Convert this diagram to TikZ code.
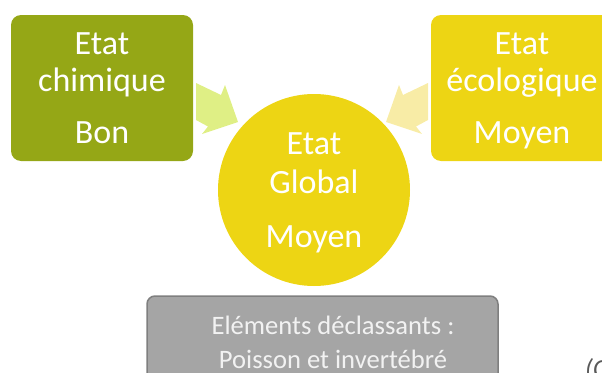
\documentclass[tikz,border=0pt]{standalone}
\usepackage{fontspec}
\setmainfont{Carlito}
\definecolor{vertolive}{HTML}{95A716}
\definecolor{jaune}{HTML}{EDD514}
\definecolor{flechevert}{HTML}{DFEF85}
\definecolor{flechejaune}{HTML}{F8ECA6}
\definecolor{grisfond}{HTML}{A5A5A5}
\definecolor{grisbord}{HTML}{7F7F7F}
\definecolor{grissource}{HTML}{595959}
\begin{document}
\begin{tikzpicture}[x=1pt, y=-1pt, line join=round, line cap=round,
  etat/.style={rounded corners=10pt, minimum width=182pt, minimum height=146pt, inner sep=0pt,
    text=white, align=center, text depth=0pt, font=\fontsize{34}{37}\selectfont},
  global/.style={circle, fill=jaune, minimum size=192pt, inner sep=0pt,
    text=white, align=center, text depth=0pt, font=\fontsize{34}{39}\selectfont},
  declass/.style={rounded corners=8pt, fill=grisfond, draw=grisbord, line width=1.5pt,
    minimum width=351pt, minimum height=95pt},
  declasstxt/.style={text=white!95!black, align=center, inner sep=0pt, font=\fontsize{26.6}{34}\selectfont}]
% Cadre de la figure
\useasboundingbox (0,0) rectangle (602,372);
\clip (0,0) rectangle (602,372);
% Flèches vers l'état global
\fill[flechevert] (196,83) -- (221,95) -- (225,85) -- (238,122) -- (202,134) -- (208,126.5) -- (196,120) -- cycle;
\fill[flechejaune] (428,83) -- (403,95) -- (399,85) -- (386,122) -- (422,134) -- (416,126.5) -- (428,120) -- cycle;
% Etats chimique et écologique
\node[etat, fill=vertolive] (chimique) at (102,88) {Etat\\chimique\\[15pt]Bon};
\node[etat, fill=jaune] (ecolo) at (522,88) {Etat\\écologique\\[15pt]Moyen};
% Etat global
\node[global] (global) at (314,190) {Etat\\Global\\[15pt]Moyen};
% Eléments déclassants
\node[declass] (declass) at (322.5,343.5) {};
\node[declasstxt] (declasstxt) at (333,342) {Eléments déclassants :\\Poisson et invertébré};
% Source (coupée)
\node[anchor=base west, inner sep=0pt, text=grissource, font=\itshape\fontsize{26}{30}\selectfont] (source) at (585,377) {(C};
\end{tikzpicture}
\end{document}
